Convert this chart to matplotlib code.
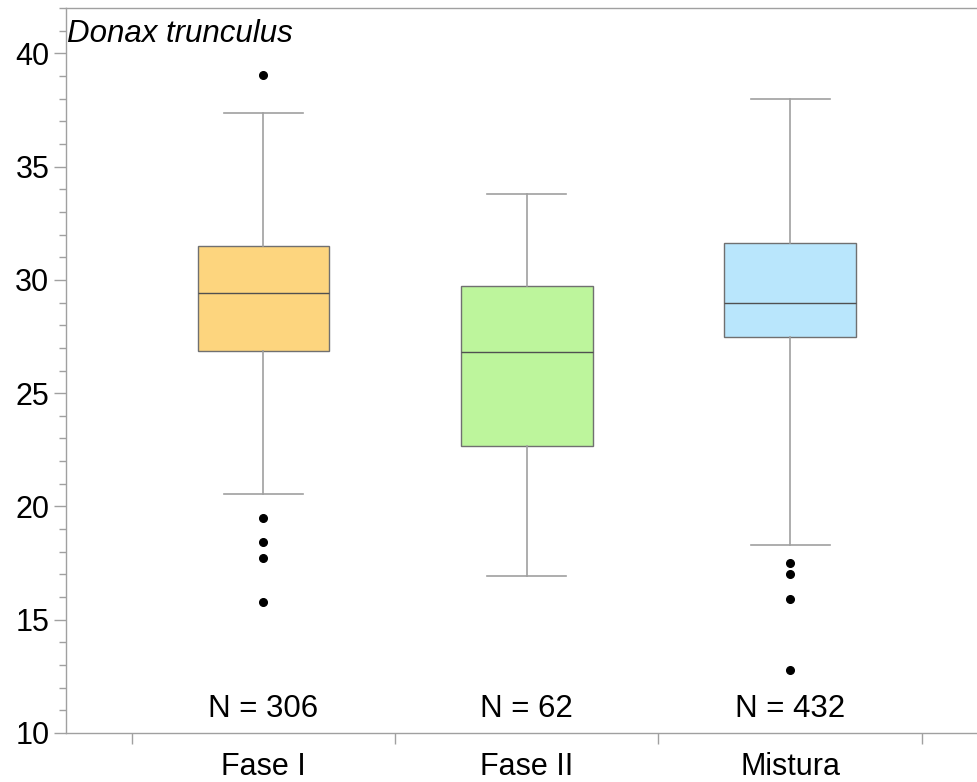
import matplotlib
matplotlib.use("Agg")
import matplotlib.pyplot as plt
from matplotlib.ticker import MultipleLocator, FixedLocator, NullFormatter

plt.rcParams['font.family'] = ['Liberation Sans', 'DejaVu Sans']

categories = ["Fase I", "Fase II", "Mistura"]
counts = [306, 62, 432]
q1 = [26.87, 22.67, 27.48]
med = [29.41, 26.81, 29.00]
q3 = [31.49, 29.75, 31.61]
whislo = [20.54, 16.92, 18.29]
whishi = [37.38, 33.77, 38.00]
fliers = [
    [39.04, 19.48, 18.42, 17.71, 15.80],
    [],
    [17.51, 17.02, 15.93, 12.76],
]
colors = ["#fdd57e", "#bdf59c", "#b9e6fc"]
title = "Donax trunculus"

fig = plt.figure(figsize=(9.78, 7.82), dpi=100)
ax = fig.add_axes([66/978, 1 - 733/782, 1 - 66/978, (733 - 8)/782])

stats = []
for i, c in enumerate(categories):
    stats.append(dict(label=c, q1=q1[i], med=med[i], q3=q3[i],
                      whislo=whislo[i], whishi=whishi[i], fliers=fliers[i]))

positions = list(range(1, len(categories) + 1))
bp = ax.bxp(stats, positions=positions, widths=0.5, patch_artist=True,
            showfliers=True, manage_ticks=False,
            boxprops=dict(edgecolor="#707070", linewidth=1.0),
            medianprops=dict(color="#505050", linewidth=1.0),
            whiskerprops=dict(color="#a0a0a0", linewidth=1.2),
            capprops=dict(color="#a0a0a0", linewidth=1.2),
            capwidths=0.3,
            flierprops=dict(marker="o", markerfacecolor="black",
                            markeredgecolor="black", markersize=5.5))
for patch, col in zip(bp["boxes"], colors):
    patch.set_facecolor(col)

ax.set_xlim(0.25, 0.25 + 912/263.3)
ax.set_ylim(10, 42)

for sp in ["left", "top", "bottom"]:
    ax.spines[sp].set_color("#a0a0a0")
    ax.spines[sp].set_linewidth(1.0)
ax.spines["right"].set_visible(False)

ax.yaxis.set_major_locator(MultipleLocator(5))
ax.yaxis.set_minor_locator(MultipleLocator(1))
ax.tick_params(axis="y", which="major", length=9, width=1, color="#a0a0a0",
               labelsize=22, pad=3)
ax.tick_params(axis="y", which="minor", length=5, width=1, color="#a0a0a0")
ax.set_yticks([10, 15, 20, 25, 30, 35, 40])

# x: ticks between categories, labels at category centers
ax.xaxis.set_major_locator(FixedLocator([0.5 + i for i in range(len(categories) + 1)]))
ax.xaxis.set_major_formatter(NullFormatter())
ax.xaxis.set_minor_locator(FixedLocator(positions))
ax.set_xticklabels(categories, minor=True)
ax.tick_params(axis="x", which="major", length=8, width=1, color="#a0a0a0")
ax.tick_params(axis="x", which="minor", length=0, labelsize=22, pad=14)

for p, n in zip(positions, counts):
    ax.text(p, 11.05, f"N = {n}", ha="center", va="center", fontsize=22.5)

ax.text(0.001, 0.964, title, transform=ax.transAxes, ha="left", va="center",
        fontsize=22.5, style="italic")

fig.savefig("out.png", dpi=100)
